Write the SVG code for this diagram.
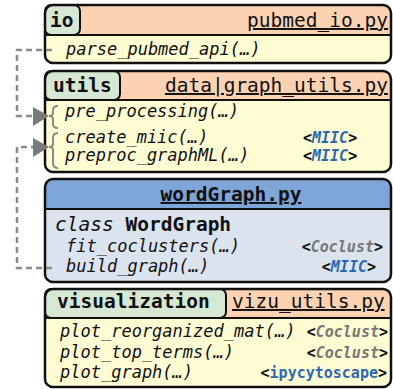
<svg xmlns="http://www.w3.org/2000/svg" width="393" height="389" viewBox="0 0 393 389">
<style>
.outline{fill:none;stroke:#111;stroke-width:2.5}
.body-y{fill:#fefcd3}
.body-b{fill:#dbe3ef}
.head-s{fill:#fbd3b3}
.head-b{fill:#7ea5d8}
.sep{stroke:#111;stroke-width:2}
.lab{fill:#d6e8d3;stroke:#111;stroke-width:2}
.mono{font-family:"DejaVu Sans Mono","Liberation Mono",monospace;fill:#111}
.big{font-size:19.5px}
.bold{font-weight:bold}
.fn{font-size:17px;font-style:italic}
.tag{font-size:15px;font-weight:bold}
.file{text-decoration:underline}
.miic{fill:#2e68b0;font-style:italic}
.cocl{fill:#777;font-style:italic}
.ipy{fill:#2e68b0}
.dash{fill:none;stroke:#8a8a8a;stroke-width:2.5;stroke-dasharray:6 4}
.brace{fill:none;stroke:#8a8a8a;stroke-width:2}
.arrow{fill:#7a7a7a}
</style>
<rect width="393" height="389" fill="#ffffff"/>

<g id="io">
<rect class="body-y" x="45" y="5" width="346" height="58" rx="8"/>
<path class="head-s" d="M45,35 V13 Q45,5 53,5 H383 Q391,5 391,13 V35 Z"/>
<line class="sep" x1="45" y1="35" x2="391" y2="35"/>
<rect class="lab" x="45" y="5" width="35" height="30" rx="6"/>
<rect class="outline" x="45" y="5" width="346" height="58" rx="8"/>
<text class="mono big bold" x="50" y="27">io</text>
<text class="mono big file" x="388" y="27" text-anchor="end">pubmed_io.py</text>
<text class="mono fn" x="66" y="55">parse_pubmed_api(…)</text>
</g>

<g id="utils">
<rect class="body-y" x="45" y="71" width="346" height="101" rx="8"/>
<path class="head-s" d="M45,100 V79 Q45,71 53,71 H383 Q391,71 391,79 V100 Z"/>
<line class="sep" x1="45" y1="100" x2="391" y2="100"/>
<rect class="lab" x="45" y="71" width="75" height="29" rx="6"/>
<rect class="outline" x="45" y="71" width="346" height="101" rx="8"/>
<text class="mono big bold" x="53" y="92">utils</text>
<text class="mono big file" x="388" y="92" text-anchor="end">data|graph_utils.py</text>
<text class="mono fn" x="65" y="117">pre_processing(…)</text>
<text class="mono fn" x="65" y="143">create_miic(…)</text>
<text class="mono fn" x="65" y="161">preproc_graphML(…)</text>
<text class="mono tag" x="303" y="143">&lt;<tspan class="miic">MIIC</tspan>&gt;</text>
<text class="mono tag" x="303" y="161">&lt;<tspan class="miic">MIIC</tspan>&gt;</text>
</g>

<g id="wordgraph">
<rect class="body-b" x="45" y="179" width="346" height="103" rx="8"/>
<path class="head-b" d="M45,209 V187 Q45,179 53,179 H383 Q391,179 391,187 V209 Z"/>
<line class="sep" x1="45" y1="209" x2="391" y2="209"/>
<rect class="outline" x="45" y="179" width="346" height="103" rx="8"/>
<text class="mono big bold file" x="231" y="201" text-anchor="middle">wordGraph.py</text>
<text class="mono big" x="55" y="231"><tspan font-style="italic">class </tspan><tspan font-weight="bold">WordGraph</tspan></text>
<text class="mono fn" x="66" y="252">fit_coclusters(…)</text>
<text class="mono fn" x="66" y="272">build_graph(…)</text>
<text class="mono tag" x="383" y="252" text-anchor="end">&lt;<tspan class="cocl">Coclust</tspan>&gt;</text>
<text class="mono tag" x="376" y="272" text-anchor="end">&lt;<tspan class="miic">MIIC</tspan>&gt;</text>
</g>

<g id="visualization">
<rect class="body-y" x="45" y="289" width="346" height="98" rx="8"/>
<path class="head-s" d="M45,318 V297 Q45,289 53,289 H383 Q391,289 391,297 V318 Z"/>
<line class="sep" x1="45" y1="318" x2="391" y2="318"/>
<rect class="lab" x="45" y="289" width="181" height="29" rx="6"/>
<rect class="outline" x="45" y="289" width="346" height="98" rx="8"/>
<text class="mono big bold" x="57" y="308">visualization</text>
<text class="mono big file" x="232" y="308">vizu_utils.py</text>
<text class="mono fn" x="60" y="337">plot_reorganized_mat(…)</text>
<text class="mono fn" x="60" y="358">plot_top_terms(…)</text>
<text class="mono fn" x="60" y="378">plot_graph(…)</text>
<text class="mono tag" x="388" y="337" text-anchor="end">&lt;<tspan class="cocl">Coclust</tspan>&gt;</text>
<text class="mono tag" x="388" y="358" text-anchor="end">&lt;<tspan class="cocl">Coclust</tspan>&gt;</text>
<text class="mono tag" x="387" y="378" text-anchor="end">&lt;<tspan class="ipy">ipycytoscape</tspan>&gt;</text>
</g>

<g id="connectors">
<path class="dash" d="M52,50 H17 V116 H33"/>
<polygon class="arrow" points="33,107 49,116 33,126"/>
<path class="brace" d="M58,106 Q53,106 53,110 V113 Q53,116 49,116 Q53,116 53,119 V124 Q53,128 58,128"/>
<path class="dash" d="M52,268 H17 V147 H34"/>
<polygon class="arrow" points="33,138 49,147 33,157"/>
<path class="brace" d="M58,133 Q53,133 53,138 V144 Q53,147 49,147 Q53,147 53,150 V163 Q53,168 58,168"/>
</g>
</svg>
